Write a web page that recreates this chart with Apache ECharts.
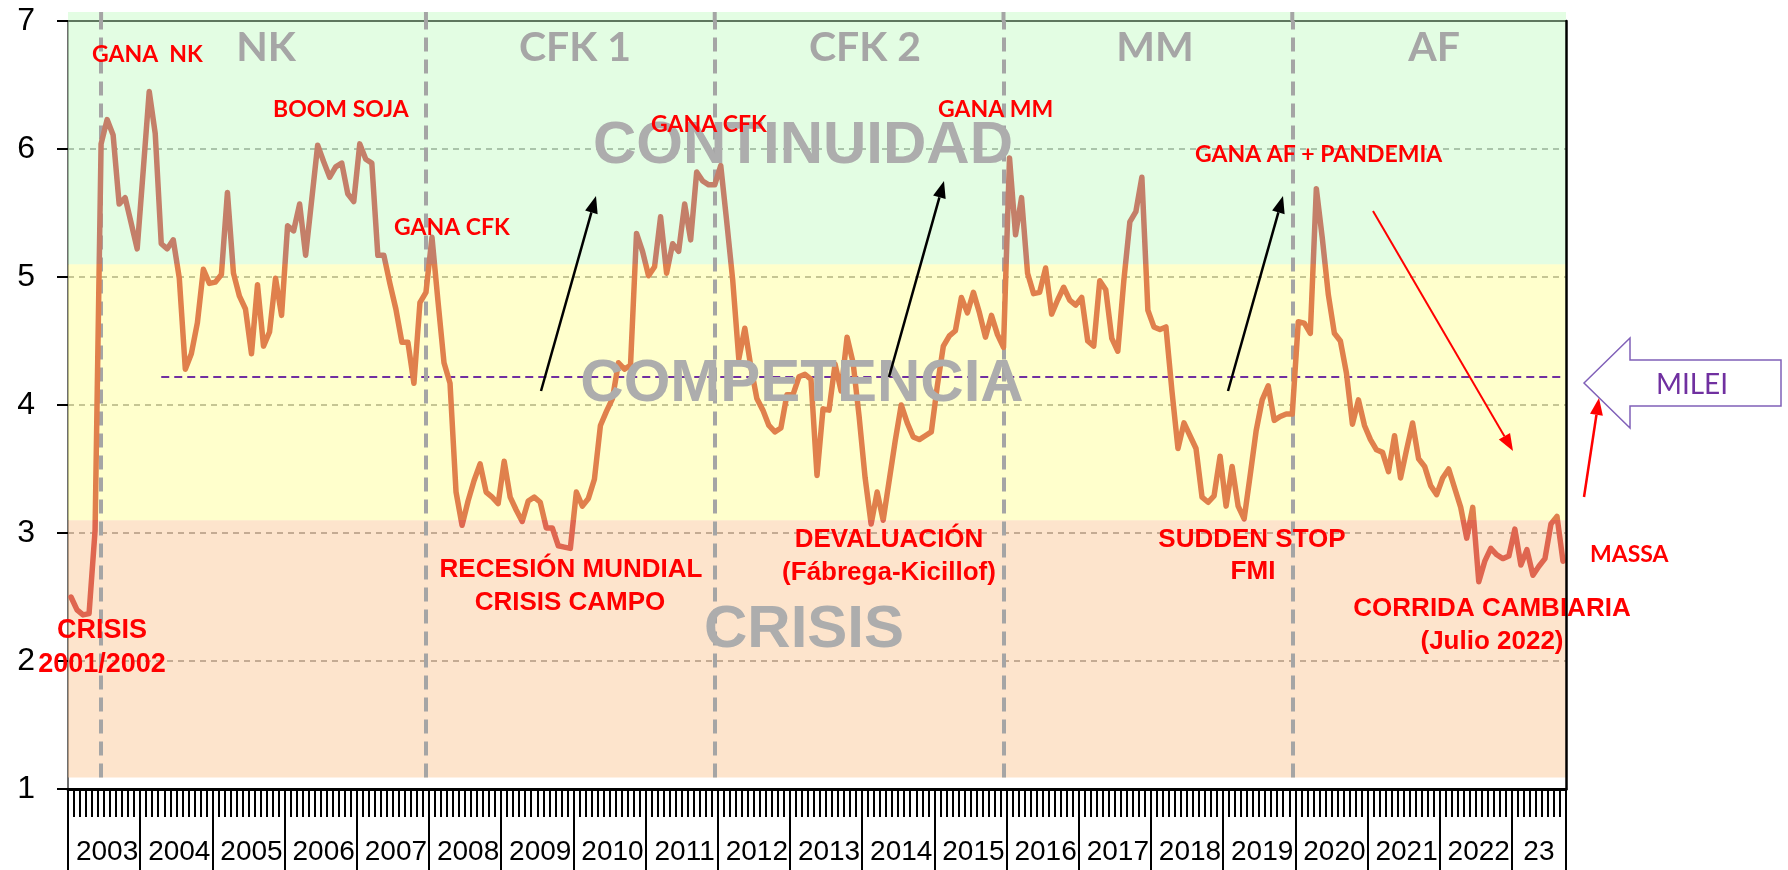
<!DOCTYPE html>
<html>
<head>
<meta charset="utf-8">
<script src="https://cdn.jsdelivr.net/npm/echarts@6/dist/echarts.min.js"></script>
<style>
  html, body { margin: 0; padding: 0; background: #fff; }
  #chart { width: 1788px; height: 870px; }
</style>
</head>
<body>
<div id="chart"></div>
<script>
// meses desde enero 2003 hasta septiembre 2023
const firstYear = 2003;
const months = [];
for (let i = 0; i < 249; i++) {
  const m = (i % 12) + 1;
  months.push((firstYear + Math.floor(i / 12)) + '-' + (m < 10 ? '0' + m : m));
}

const yearLabels = ['2003', '2004', '2005', '2006', '2007', '2008', '2009', '2010', '2011', '2012',
  '2013', '2014', '2015', '2016', '2017', '2018', '2019', '2020', '2021', '2022', '23'];

const values = [
  2.50, 2.40, 2.36, 2.37, 3.02, 6.04, 6.23, 6.11, 5.57, 5.62, 5.42, 5.22, // 2003
  5.83, 6.45, 6.12, 5.26, 5.22, 5.29, 4.99, 4.28, 4.40, 4.64, 5.06, 4.95, // 2004
  4.96, 5.02, 5.66, 5.03, 4.85, 4.75, 4.40, 4.94, 4.46, 4.57, 4.99, 4.70, // 2005
  5.40, 5.36, 5.57, 5.17, 5.60, 6.03, 5.90, 5.78, 5.86, 5.89, 5.65, 5.59, // 2006
  6.04, 5.92, 5.89, 5.17, 5.17, 4.95, 4.75, 4.49, 4.49, 4.17, 4.80, 4.88, // 2007
  5.31, 4.81, 4.33, 4.17, 3.32, 3.06, 3.25, 3.41, 3.54, 3.32, 3.28, 3.23, // 2008
  3.56, 3.28, 3.18, 3.09, 3.25, 3.28, 3.24, 3.04, 3.04, 2.90, 2.89, 2.88, // 2009
  3.32, 3.21, 3.27, 3.42, 3.84, 3.95, 4.05, 4.33, 4.28, 4.31, 5.34, 5.20, // 2010
  5.01, 5.08, 5.47, 5.03, 5.26, 5.20, 5.57, 5.29, 5.82, 5.75, 5.72, 5.72, // 2011
  5.87, 5.43, 4.97, 4.36, 4.60, 4.30, 4.05, 3.96, 3.84, 3.79, 3.82, 4.08, // 2012
  4.08, 4.22, 4.24, 4.20, 3.45, 3.97, 3.96, 4.32, 4.11, 4.53, 4.33, 3.91, // 2013
  3.43, 3.07, 3.32, 3.10, 3.41, 3.72, 4.00, 3.86, 3.75, 3.73, 3.76, 3.79, // 2014
  4.15, 4.46, 4.54, 4.58, 4.84, 4.72, 4.88, 4.72, 4.53, 4.70, 4.55, 4.45, // 2015
  5.93, 5.33, 5.62, 5.03, 4.87, 4.88, 5.07, 4.71, 4.82, 4.92, 4.82, 4.78, // 2016
  4.84, 4.50, 4.46, 4.97, 4.90, 4.52, 4.42, 4.97, 5.43, 5.51, 5.78, 4.74, // 2017
  4.61, 4.59, 4.61, 4.11, 3.66, 3.86, 3.76, 3.66, 3.28, 3.24, 3.29, 3.60, // 2018
  3.21, 3.52, 3.21, 3.11, 3.45, 3.80, 4.04, 4.15, 3.88, 3.91, 3.93, 3.93, // 2019
  4.65, 4.64, 4.56, 5.69, 5.30, 4.86, 4.56, 4.50, 4.25, 3.85, 4.04, 3.84, // 2020
  3.73, 3.65, 3.63, 3.48, 3.76, 3.43, 3.65, 3.86, 3.58, 3.52, 3.37, 3.30, // 2021
  3.43, 3.50, 3.35, 3.20, 2.96, 3.20, 2.62, 2.78, 2.88, 2.83, 2.80, 2.82, // 2022
  3.03, 2.75, 2.87, 2.67, 2.74, 2.80, 3.07, 3.13, 2.78                    // 2023
];

// cambio de gobierno (mes de la linea vertical)
const periodStarts = ['2003-06', '2007-12', '2011-12', '2015-12', '2019-12'];
const zoneLimits = [1.09, 3.1, 5.1, 7];
const mileiLevel = 4.22;
const mileiFrom = '2004-04';

// etiqueta de año centrada en cada año (2023 tiene 9 meses)
const yearLabelAt = {};
yearLabels.forEach((y, k) => {
  yearLabelAt[k < 20 ? k * 12 + 6 : 244] = y;
});

const greenBand = 'rgba(199,251,199,0.5)';
const yellowBand = 'rgba(255,255,153,0.5)';
const peachBand = 'rgba(251,201,153,0.5)';

const chart = echarts.init(document.getElementById('chart'));

const sepStyle = { color: '#a5a5a5', width: 4, type: [14, 8] };

chart.setOption({
  animation: false,
  textStyle: { fontFamily: 'Liberation Sans' },
  grid: { left: 68, right: 222, top: 21, bottom: 81, containLabel: false },
  xAxis: [
    {
      type: 'category',
      data: months,
      boundaryGap: true,
      position: 'bottom',
      z: 20,
      axisLine: { lineStyle: { color: '#000', width: 3 } },
      axisTick: { show: true, interval: 0, length: 28, lineStyle: { color: '#000', width: 2 } },
      axisLabel: {
        interval: (i) => yearLabelAt[i] !== undefined,
        formatter: (v, i) => yearLabelAt[i] || '',
        margin: 49,
        fontSize: 28,
        color: '#000'
      },
      splitLine: { show: false }
    },
    {
      // marcas largas entre años
      type: 'value',
      min: 0,
      max: months.length,
      interval: 12,
      position: 'bottom',
      z: 20,
      axisLine: { show: false },
      axisTick: { show: true, length: 81, lineStyle: { color: '#000', width: 2 } },
      axisLabel: { show: false },
      splitLine: { show: false }
    }
  ],
  yAxis: [
    {
      type: 'value',
      min: 1,
      max: 7,
      interval: 1,
      axisLine: { show: true, lineStyle: { color: '#3c3c3c', width: 1.5 } },
      axisTick: { show: true, length: 11, lineStyle: { color: '#000', width: 2 } },
      axisLabel: { margin: 33, fontSize: 32, color: '#000' },
      splitLine: { show: true, lineStyle: { color: '#6a6a6a', width: 1.5, type: [6, 5] } }
    },
    {
      type: 'value',
      min: 1,
      max: 7,
      position: 'right',
      z: 20,
      axisLine: { show: true, lineStyle: { color: '#000', width: 2.5 } },
      axisTick: { show: false },
      axisLabel: { show: false },
      splitLine: { show: false }
    }
  ],
  visualMap: {
    show: false,
    type: 'piecewise',
    seriesIndex: 1,
    dimension: 1,
    pieces: [
      { lt: zoneLimits[1], color: '#df6650' },
      { gte: zoneLimits[1], lt: zoneLimits[2], color: '#e0804c' },
      { gte: zoneLimits[2], color: '#c47f69' }
    ]
  },
  series: [
    {
      name: 'zonas',
      type: 'line',
      data: [],
      z: 1,
      silent: true,
      markArea: {
        silent: true,
        data: [
          [{ yAxis: zoneLimits[0], itemStyle: { color: peachBand } }, { yAxis: zoneLimits[1] }],
          [{ yAxis: zoneLimits[1], itemStyle: { color: yellowBand } }, { yAxis: zoneLimits[2] }],
          [{ yAxis: zoneLimits[2], itemStyle: { color: greenBand } }, { yAxis: zoneLimits[3] }]
        ]
      }
    },
    {
      name: 'indice',
      type: 'line',
      data: values,
      z: 5,
      silent: true,
      symbol: 'none',
      showSymbol: false,
      lineStyle: { width: 5.5, cap: 'round', join: 'round' }
    },
    {
      name: 'marcas',
      type: 'line',
      data: [],
      z: 15,
      silent: true,
      markLine: {
        silent: true,
        symbol: ['none', 'none'],
        label: { show: false },
        data: [
          [{ coord: [mileiFrom, mileiLevel], lineStyle: { color: '#7030a0', width: 2, type: [8, 5] } },
           { coord: [months[months.length - 1], mileiLevel] }],
          { yAxis: 7, lineStyle: { color: '#5f775f', width: 2, type: 'solid' } }
        ].concat(periodStarts.map((m) => [
          { coord: [m, zoneLimits[0]], lineStyle: sepStyle },
          { coord: [m, zoneLimits[3]] }
        ]))
      }
    }
  ]
});

// ---- anotaciones ----
function txt(text, x, y, font, fill, align, z) {
  return {
    type: 'text', x: x, y: y, z: z, silent: true,
    style: {
      text: text, font: font, fill: fill,
      align: align, textAlign: align,
      verticalAlign: 'middle', textVerticalAlign: 'middle'
    }
  };
}

function arrow(x1, y1, x2, y2, color, width, headLen, headW) {
  const dx = x2 - x1, dy = y2 - y1;
  const len = Math.sqrt(dx * dx + dy * dy);
  const ux = dx / len, uy = dy / len;
  const bx = x2 - ux * headLen, by = y2 - uy * headLen;
  const px = -uy * headW / 2, py = ux * headW / 2;
  return [
    { type: 'line', z: 30, silent: true, shape: { x1: x1, y1: y1, x2: bx, y2: by },
      style: { stroke: color, lineWidth: width } },
    { type: 'polygon', z: 30, silent: true,
      shape: { points: [[x2, y2], [bx + px, by + py], [bx - px, by - py]] },
      style: { fill: color } }
  ];
}

const grayBig = 'bold 60px "Liberation Sans"';
const grayPeriod = 'bold 41px Lato';
const redCal = 'bold 23px Lato';
const redArial = 'bold 26px "Liberation Sans"';
const gray = '#adadad';
const red = '#ff0000';

const topPx = chart.convertToPixel({ yAxisIndex: 0 }, 7);
const stripTop = topPx - 9;

const elements = [
  { type: 'rect', z: 0, silent: true, shape: { x: 68, y: stripTop, width: 1498, height: topPx - stripTop },
    style: { fill: '#e3fde3' } }
];
periodStarts.forEach((m) => {
  const x = chart.convertToPixel({ xAxisIndex: 0 }, m);
  elements.push({ type: 'line', z: 25, silent: true, shape: { x1: x, y1: stripTop, x2: x, y2: topPx },
    style: { stroke: '#a5a5a5', lineWidth: 4 } });
});

elements.push(
  txt('NK', 266, 48, grayPeriod, '#a6a6a6', 'center', 10),
  txt('CFK 1', 575, 48, grayPeriod, '#a6a6a6', 'center', 10),
  txt('CFK 2', 865, 48, grayPeriod, '#a6a6a6', 'center', 10),
  txt('MM', 1155, 48, grayPeriod, '#a6a6a6', 'center', 10),
  txt('AF', 1434, 48, grayPeriod, '#a6a6a6', 'center', 10),

  txt('CONTINUIDAD', 803, 146, grayBig, gray, 'center', 10),
  txt('COMPETENCIA', 802, 384, grayBig, gray, 'center', 10),
  txt('CRISIS', 804, 630, grayBig, gray, 'center', 10),

  txt('GANA  NK', 92, 55, redCal, red, 'left', 20),
  txt('BOOM SOJA', 273, 110, redCal, red, 'left', 20),
  txt('GANA CFK', 394, 228, redCal, red, 'left', 20),
  txt('GANA CFK', 651, 125, redCal, red, 'left', 20),
  txt('GANA MM', 938, 110, redCal, red, 'left', 20),
  txt('GANA AF + PANDEMIA', 1195, 155, redCal, red, 'left', 20),
  txt('MASSA', 1590, 555, redCal, red, 'left', 20),

  txt('CRISIS', 102, 631, 'bold 27px "Liberation Sans"', red, 'center', 20),
  txt('2001/2002', 102, 665, 'bold 27px "Liberation Sans"', red, 'center', 20),
  txt('RECESIÓN MUNDIAL', 571, 570, redArial, red, 'center', 20),
  txt('CRISIS CAMPO', 570, 603, redArial, red, 'center', 20),
  txt('DEVALUACIÓN', 889, 540, redArial, red, 'center', 20),
  txt('(Fábrega-Kicillof)', 889, 573, redArial, red, 'center', 20),
  txt('SUDDEN STOP', 1252, 540, redArial, red, 'center', 20),
  txt('FMI', 1253, 572, redArial, red, 'center', 20),
  txt('CORRIDA CAMBIARIA', 1492, 609, redArial, red, 'center', 20),
  txt('(Julio 2022)', 1492, 642, redArial, red, 'center', 20),

  // flecha MILEI
  { type: 'polygon', z: 30, silent: true,
    shape: { points: [[1584, 383], [1630, 338], [1630, 360], [1781, 360], [1781, 406], [1630, 406], [1630, 428]] },
    style: { fill: '#fff', stroke: '#8060b8', lineWidth: 1.5 } },
  txt('MILEI', 1692, 385, '28px Lato', '#7030a0', 'center', 31)
);

elements.push.apply(elements, arrow(541, 391, 596, 196, '#000', 2.5, 17, 13));
elements.push.apply(elements, arrow(889, 377, 944, 181, '#000', 2.5, 17, 13));
elements.push.apply(elements, arrow(1228, 391, 1283, 196, '#000', 2.5, 17, 13));
elements.push.apply(elements, arrow(1373, 211, 1513, 451, '#ff0000', 2, 17, 13));
elements.push.apply(elements, arrow(1584, 497, 1599, 398, '#ff0000', 2.5, 17, 13));

chart.setOption({ graphic: { elements: elements } });
</script>
</body>
</html>
